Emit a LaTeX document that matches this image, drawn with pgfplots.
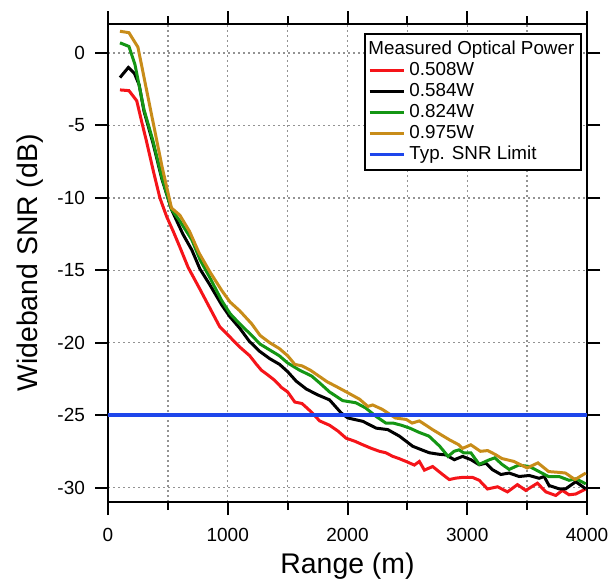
\documentclass[border=0pt]{standalone}
\usepackage{fontspec}
\setmainfont{Liberation Sans}
\usepackage{pgfplots}
\pgfplotsset{compat=1.18}
\definecolor{cRed}{RGB}{245,20,25}
\definecolor{cGreen}{RGB}{20,150,20}
\definecolor{cGold}{RGB}{200,140,25}
\definecolor{cBlue}{RGB}{30,70,235}

\begin{document}
\begin{tikzpicture}
\begin{axis}[
  scale only axis, width=239.5pt, height=239pt,
  xmin=0, xmax=4000, ymin=-31, ymax=2,
  xtick={0,1000,2000,3000,4000}, minor xtick={500,1500,2500,3500},
  ytick={-30,-25,-20,-15,-10,-5,0},
  xtick pos=both, ytick pos=both,
  tick align=outside, major tick length=6.5pt, minor tick length=4pt,
  every tick/.style={black, line width=1pt},
  axis line style={line width=1pt},
  grid style={gray!85, dash pattern=on 0.8pt off 1.7pt, line width=0.7pt},
  minor grid style={gray!85, dash pattern=on 0.8pt off 1.7pt, line width=0.7pt},
  xmajorgrids, ymajorgrids, xminorgrids,
  /pgf/number format/assume math mode=true,
  /pgf/number format/1000 sep={},
  tick label style={font=\fontsize{9.5}{10}\selectfont},
  xticklabel style={yshift=-3pt},
  yticklabel style={xshift=-1.5pt},
  xlabel={Range (m)}, ylabel={Wideband SNR (dB)},
  label style={font=\fontsize{14.2}{16}\selectfont},
  xlabel style={at={(axis description cs:0.5,0)}, anchor=base, yshift=-35.5pt},
  ylabel style={at={(axis description cs:-0.148,0.5)}, anchor=base},
  legend style={at={(0.99,0.981)}, anchor=north east, draw=black, line width=0.9pt,
    font=\fontsize{9.4}{10}\selectfont, inner sep=1.5pt, row sep=-1.6pt},
  legend cell align=left,
  every axis plot/.append style={line width=1.5pt},
]
\addlegendimage{empty legend}
\addlegendentry{\hspace{-0.72cm}Measured Optical Power}
\addplot[cRed] coordinates {
(100,-2.55)(175,-2.6)(240,-3.3)(280,-4.7)(320,-6.05)(380,-8.2)(433,-10.0)(490,-11.3)
(544,-12.3)(600,-13.4)(669,-14.8)(767,-16.3)(850,-17.6)(933,-18.9)(1017,-19.6)(1100,-20.3)
(1183,-20.9)(1240,-21.5)(1281,-21.9)(1330,-22.2)(1392,-22.6)(1450,-23.1)(1500,-23.4)(1560,-24.1)
(1620,-24.2)(1700,-24.8)(1767,-25.4)(1850,-25.7)(1920,-26.1)(1989,-26.6)(2060,-26.8)(2128,-27.05)
(2200,-27.3)(2267,-27.5)(2320,-27.6)(2378,-27.85)(2430,-28.0)(2489,-28.2)(2558,-28.45)(2600,-28.2)
(2642,-28.8)(2711,-28.55)(2794,-29.1)(2850,-29.45)(2906,-29.35)(2960,-29.3)(3044,-29.3)(3100,-29.5)
(3169,-30.1)(3253,-29.95)(3336,-30.3)(3419,-29.8)(3489,-30.2)(3586,-29.7)(3656,-30.3)(3739,-30.55)
(3794,-30.2)(3850,-30.5)(3906,-30.45)(3989,-30.1)};
\addlegendentry{0.508W}
\addplot[black] coordinates {
(100,-1.7)(170,-1.0)(220,-1.4)(260,-2.2)(300,-4.0)(375,-6.2)(450,-8.7)(530,-10.8)
(625,-12.5)(700,-13.6)(767,-14.9)(850,-16.0)(950,-17.4)(1017,-18.2)(1100,-19.0)(1180,-19.9)
(1267,-20.6)(1350,-21.1)(1433,-21.5)(1500,-22.0)(1572,-22.66)(1656,-23.2)(1750,-23.6)(1850,-23.95)
(1947,-24.85)(2003,-25.2)(2128,-25.43)(2239,-25.9)(2336,-26.0)(2433,-26.45)(2544,-27.15)(2620,-27.4)
(2683,-27.6)(2760,-27.7)(2822,-27.75)(2892,-28.08)(2961,-27.85)(3031,-28.08)(3100,-28.43)(3156,-28.32)
(3211,-28.77)(3281,-29.1)(3350,-29.0)(3433,-29.24)(3517,-29.17)(3600,-29.36)(3642,-29.24)(3683,-29.86)
(3767,-30.09)(3822,-30.09)(3906,-29.6)(3989,-30.09)};
\addlegendentry{0.584W}
\addplot[cGreen] coordinates {
(100,0.7)(175,0.45)(225,-0.8)(300,-3.9)(375,-6.05)(450,-8.6)(530,-10.8)(600,-11.6)
(700,-12.9)(770,-14.3)(850,-15.5)(950,-17.1)(1020,-18.0)(1100,-18.7)(1200,-19.5)(1270,-20.1)
(1350,-20.5)(1430,-20.9)(1500,-21.4)(1600,-21.9)(1700,-22.3)(1770,-22.8)(1850,-23.4)(1960,-24.0)
(2070,-24.15)(2150,-24.5)(2240,-25.1)(2320,-25.55)(2380,-25.55)(2450,-25.7)(2520,-25.9)(2600,-26.2)
(2680,-26.45)(2770,-27.15)(2840,-27.85)(2890,-27.5)(2930,-27.4)(2970,-27.6)(3030,-27.6)(3100,-28.4)
(3180,-28.1)(3230,-27.95)(3290,-28.4)(3350,-28.75)(3430,-28.45)(3520,-28.55)(3600,-28.9)(3680,-29.25)
(3770,-29.25)(3850,-29.5)(3910,-29.4)(3990,-29.75)};
\addlegendentry{0.824W}
\addplot[cGold] coordinates {
(100,1.5)(175,1.4)(250,0.4)(350,-3.7)(450,-7.8)(530,-10.7)(600,-11.2)(680,-12.3)
(760,-13.8)(850,-15.1)(950,-16.4)(1020,-17.2)(1100,-17.8)(1200,-18.7)(1270,-19.5)(1350,-20.0)
(1430,-20.4)(1500,-20.9)(1560,-21.5)(1620,-21.6)(1690,-21.9)(1760,-22.3)(1830,-22.7)(1900,-23.0)
(1990,-23.4)(2100,-23.9)(2170,-24.4)(2210,-24.3)(2290,-24.6)(2400,-25.2)(2490,-25.3)(2540,-25.55)
(2600,-25.4)(2710,-26.0)(2780,-26.35)(2850,-26.7)(2930,-27.05)(2960,-27.3)(3030,-27.05)(3110,-27.5)
(3170,-27.45)(3230,-27.7)(3290,-28.0)(3390,-28.2)(3500,-28.65)(3590,-28.3)(3680,-28.9)(3760,-28.95)
(3820,-29.0)(3900,-29.45)(3990,-29.0)};
\addlegendentry{0.975W}
\addplot[cBlue, line width=1.7pt] coordinates {(0,-25)(4000,-25)};
\addlegendentry{Typ. SNR Limit}
\end{axis}
\pgfresetboundingbox
\path ([xshift=-54pt,yshift=-38pt]current axis.south west) rectangle ([xshift=10.5pt,yshift=12pt]current axis.north east);
\end{tikzpicture}
\end{document}
